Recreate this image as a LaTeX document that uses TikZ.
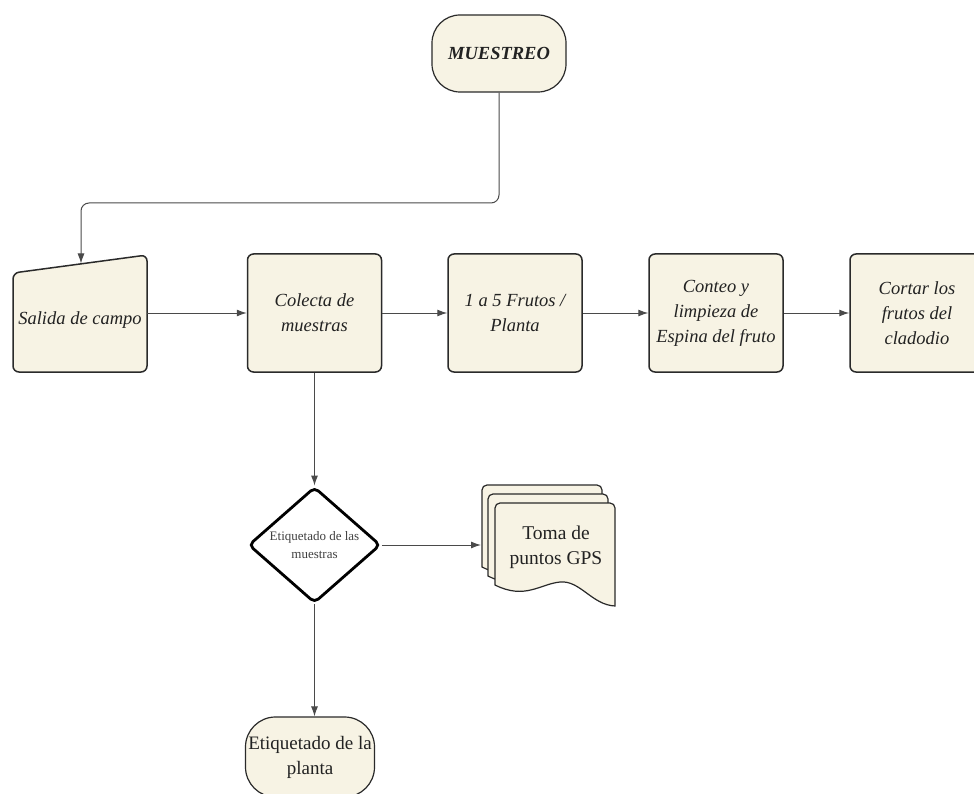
\documentclass[tikz,border=0pt]{standalone}
\usepackage{fontspec}
\setmainfont{Liberation Serif}
\usetikzlibrary{shapes.geometric,arrows.meta}
\definecolor{cream}{HTML}{F7F3E4}
\definecolor{edgec}{HTML}{2A2A2A}
\definecolor{connc}{HTML}{4A4A4A}
\definecolor{txtc}{HTML}{222222}
\begin{document}
\begin{tikzpicture}[x=1pt,y=-1pt,
  proc/.style={draw=edgec,line width=1.5pt,fill=cream,rounded corners=6pt,
    minimum width=134pt,minimum height=118pt,inner sep=0pt,align=center,
    text=txtc,font=\fontsize{18.5}{25}\selectfont\itshape},
  term/.style={draw=edgec,line width=1.2pt,fill=cream,rounded corners=28pt,
    inner sep=0pt,align=center,text=txtc},
  conn/.style={draw=connc,line width=1pt,-{Latex[length=10pt,width=7pt]}},
  page/.style={draw=edgec,line width=1.2pt,fill=cream}
]
\clip (0,0) rectangle (974,794);
\fill[white] (0,0) rectangle (974,794);

% terminator MUESTREO
\node[term,minimum width=134pt,minimum height=77pt,
  font=\fontsize{18.5}{22}\selectfont\bfseries\itshape] (muestreo) at (499,53.5) {MUESTREO};

% manual input: Salida de campo
\filldraw[page,line width=1.5pt,rounded corners=6pt] (13,273) -- (147,255) -- (147,372) -- (13,372) -- cycle;
\node[text=txtc,font=\fontsize{18.5}{25}\selectfont\itshape,inner sep=0pt] (salida) at (80,320) {Salida de campo};
\coordinate (salidaR) at (147,313);
\coordinate (salidaTop) at (81,263.5);
\coordinate (turn) at (81,203);

% process boxes
\node[proc] (colecta) at (314.5,313) {Colecta de\\muestras};
\node[proc] (frutos) at (515,313) {1 a 5 Frutos /\\Planta};
\node[proc] (conteo) at (716,313) {Conteo y\\limpieza de\\Espina del fruto};
\node[proc] (cortar) at (917,313) {Cortar los\\frutos del\\cladodio};

% decision
\node[diamond,draw=black,line width=2.8pt,fill=white,aspect=1.14,
  minimum width=132pt,minimum height=116pt,inner sep=0pt,rounded corners=5pt,
  align=center,text=black!75,font=\fontsize{13}{18}\selectfont] (dia) at (314.5,545)
  {Etiquetado de las\\muestras};

% multi-document
\foreach \dx/\dy in {-13/-18,-7/-9,0/0}{
  \begin{scope}[shift={(\dx,\dy)}]
    \filldraw[page] (495,585) -- (495,508) arc[start angle=180,end angle=90,radius=5pt]
      -- (610,503) arc[start angle=90,end angle=0,radius=5pt] -- (615,606)
      .. controls (592,605) and (580,580) .. (560,582)
      .. controls (540,584) and (525,600) .. (495,585) -- cycle;
  \end{scope}
}
\node[text=txtc,align=center,font=\fontsize{19.5}{25}\selectfont,inner sep=0pt] (toma) at (556,547) {Toma de\\puntos GPS};
\coordinate (tomaL) at (481,545);

% terminator planta
\node[term,rounded corners=30pt,minimum width=129pt,minimum height=80pt,
  font=\fontsize{19}{25}\selectfont] (planta) at (310,757) {Etiquetado de la\\planta};

% connectors
\draw[conn,rounded corners=8pt] (muestreo.south) |- (turn) -- (salidaTop);
\draw[conn] (salidaR) -- (colecta.west);
\draw[conn] (colecta.east) -- (frutos.west);
\draw[conn] (frutos.east) -- (conteo.west);
\draw[conn] (conteo.east) -- (cortar.west);
\draw[conn] (colecta.south) -- (dia.north);
\draw[conn] (dia.east) -- (tomaL);
\draw[conn] (dia.south) -- (dia.south |- planta.north);
\end{tikzpicture}
\end{document}
